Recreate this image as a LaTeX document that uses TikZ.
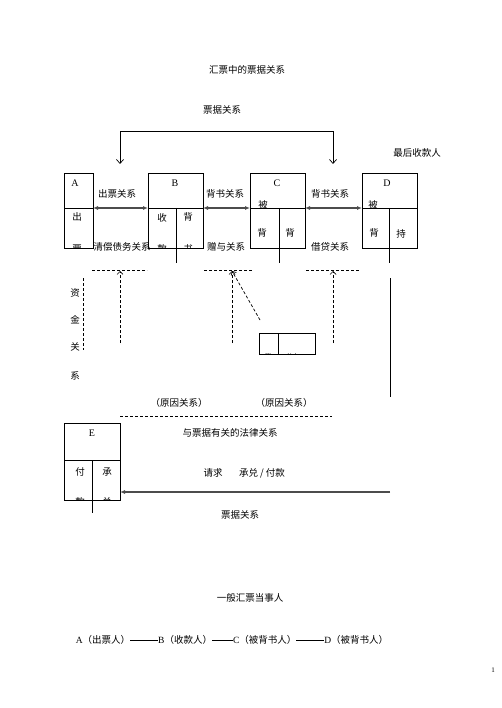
\documentclass[tikz,border=0pt]{standalone}
\usepackage{fontspec}
\setmainfont{Liberation Serif}
\newfontfamily\cjk{Noto Sans CJK SC}
\usetikzlibrary{arrows.meta}
\begin{document}
\begin{tikzpicture}[x=1pt,y=-1pt,
 every node/.style={inner sep=0pt, outer sep=0pt},
 lbl/.style={font=\cjk\fontsize{9.5}{11}\selectfont},
 let/.style={font=\rmfamily\fontsize{10}{12}\selectfont},
 box/.style={draw, line width=0.6pt, rectangle, minimum height=75pt, minimum width=55pt},
 ln/.style={line width=0.6pt},
 rel/.style={line width=1.2pt, draw=black!70, {Latex[length=5pt,width=4pt]}-{Latex[length=5pt,width=4pt]}},
 dsh/.style={line width=0.7pt, dash pattern=on 3pt off 2pt},
 darr/.style={dsh, -{Straight Barb[length=3pt,width=6pt]}},
]
\useasboundingbox (0,0) rectangle (502,708);
\fill[white] (0,0) rectangle (502,708);

% titles
\node[lbl] (title) at (247,70) {汇票中的票据关系};
\node[lbl] (pj1) at (222,110) {票据关系};
\node[lbl] (last) at (417,153) {最后收款人};

% boxes
\node[box, minimum width=29pt] (A) at (78.5,210.5) {};
\node[box] (B) at (175.5,210.5) {};
\node[box] (C) at (277.5,210.5) {};
\node[box] (D) at (389.5,210.5) {};
\node[box, minimum width=56pt, minimum height=77pt] (E) at (92,461.5) {};
\node[box, minimum width=56pt, minimum height=21pt] (S) at (287,343.5) {};

% mid lines
\draw[ln] (64,208) -- (93,208);
\draw[ln] (148,208) -- (203,208);
\draw[ln] (250,208) -- (305,208);
\draw[ln] (362,208) -- (417,208);
\draw[ln] (64,460) -- (120,460);
% dividers
\draw[ln] (176,208) -- (176,263);
\draw[ln] (279,208) -- (279,263);
\draw[ln] (389,208) -- (389,263);
\draw[ln] (92,460) -- (92,513);
\draw[ln] (278,333) -- (278,354);

% box letters
\node[let] (la) at (75,183) {A};
\node[let] (lb) at (175,183) {B};
\node[let] (lc) at (277,183) {C};
\node[let] (ld) at (387,183) {D};
\node[let] (le) at (92,433) {E};

% cell texts
\node[lbl] (a1) at (77,217) {出};
\node[lbl] (b1) at (162,218) {收};
\node[lbl] (b2) at (188,217) {背};
\node[lbl] (c0) at (263,205) {被};
\node[lbl] (c1) at (262,233) {背};
\node[lbl] (c2) at (290,233) {背};
\node[lbl] (d0) at (373,205) {被};
\node[lbl] (d1) at (374,233) {背};
\node[lbl] (d2) at (401,234) {持};
\node[lbl] (e1) at (80,472) {付};
\node[lbl] (e2) at (107,472) {承};

% clipped texts
\begin{scope}
\clip (64,208) rectangle (93,248);
\node[lbl] (a2) at (77,249) {票};
\end{scope}
\begin{scope}
\clip (148,208) rectangle (203,248);
\node[lbl] (b3) at (162,249) {款};
\node[lbl] (b4) at (188,249) {书};
\end{scope}
\begin{scope}
\clip (64,460) rectangle (120,500);
\node[lbl] (e3) at (80,501.5) {款};
\node[lbl] (e4) at (107,501.5) {兑};
\end{scope}
\begin{scope}
\clip (259,333) rectangle (315,354);
\node[font=\cjk\fontsize{7}{8}\selectfont] (s1) at (268,356.5) {背};
\node[font=\cjk\fontsize{7}{8}\selectfont] (s2) at (292,356.5) {书人};
\end{scope}

% relation arrows
\draw[rel] (A.east |- 0,208) -- (B.west |- 0,208);
\draw[rel] (B.east |- 0,208) -- (C.west |- 0,208);
\draw[rel] (C.east |- 0,208) -- (D.west |- 0,208);
\node[lbl] (r1) at (117,194) {出票关系};
\node[lbl] (r2) at (225,194) {背书关系};
\node[lbl] (r3) at (330,194) {背书关系};
\node[lbl] (r4) at (122,247) {清偿债务关系};
\node[lbl] (r5) at (226,247) {赠与关系};
\node[lbl] (r6) at (330,247) {借贷关系};

% top bracket
\coordinate (tl) at (120,164);
\coordinate (tr) at (333,164);
\draw[line width=0.7pt, {Straight Barb[length=4pt,width=7pt]}-{Straight Barb[length=4pt,width=7pt]}] (tl) -- (120,131) -- (333,131) -- (tr);

% dashed lines
\draw[dsh] (92,270) -- (147,270);
\draw[dsh] (204,270) -- (252,270);
\draw[dsh] (306,270) -- (360,270);
\draw[dsh] (83,278) -- (83,350);

% dashed arrows
\coordinate (p1) at (120,343);
\coordinate (q1) at (120,271);
\coordinate (p2) at (232,343);
\coordinate (q2) at (232,271);
\coordinate (p3) at (333,343);
\coordinate (q3) at (333,271);
\coordinate (p4) at (260,320);
\draw[darr] (p1) -- (q1);
\draw[darr] (p2) -- (q2);
\draw[darr] (p3) -- (q3);
\draw[darr] (p4) -- (q2);

% vertical text
\node[lbl] (v1) at (75,293) {资};
\node[lbl] (v2) at (75,320) {金};
\node[lbl] (v3) at (75,347) {关};
\node[lbl] (v4) at (75,376) {系};

% right vertical line
\draw[ln] (390,278) -- (390,397);

% lower labels
\node[lbl] (y1) at (179,403) {（原因关系）};
\node[lbl] (y2) at (284,403) {（原因关系）};
\draw[dsh] (120,416) -- (332,416);
\node[lbl] (law) at (230,433) {与票据有关的法律关系};
\node[lbl] (qq) at (213,473) {请求};
\node[lbl] (cd) at (262,473) {承兑 / 付款};
\coordinate (rb) at (390,492);
\draw[line width=1.1pt, draw=black!70, -{Latex[length=5pt,width=4pt]}] (rb) -- (E.east |- rb);
\node[lbl] (pj2) at (240,515) {票据关系};

% bottom
\node[lbl] (gen) at (250,598) {一般汇票当事人};
\node[lbl] (chain) at (232,640) {\rmfamily A\cjk（出票人）\rule[0.3em]{28pt}{0.6pt}\rmfamily B\cjk（收款人）\rule[0.3em]{21pt}{0.6pt}\rmfamily C\cjk（被背书人）\rule[0.3em]{28pt}{0.6pt}\rmfamily D\cjk（被背书人）};
\node[font=\rmfamily\fontsize{7}{8}\selectfont] (pg) at (493,670) {1};
\end{tikzpicture}
\end{document}
